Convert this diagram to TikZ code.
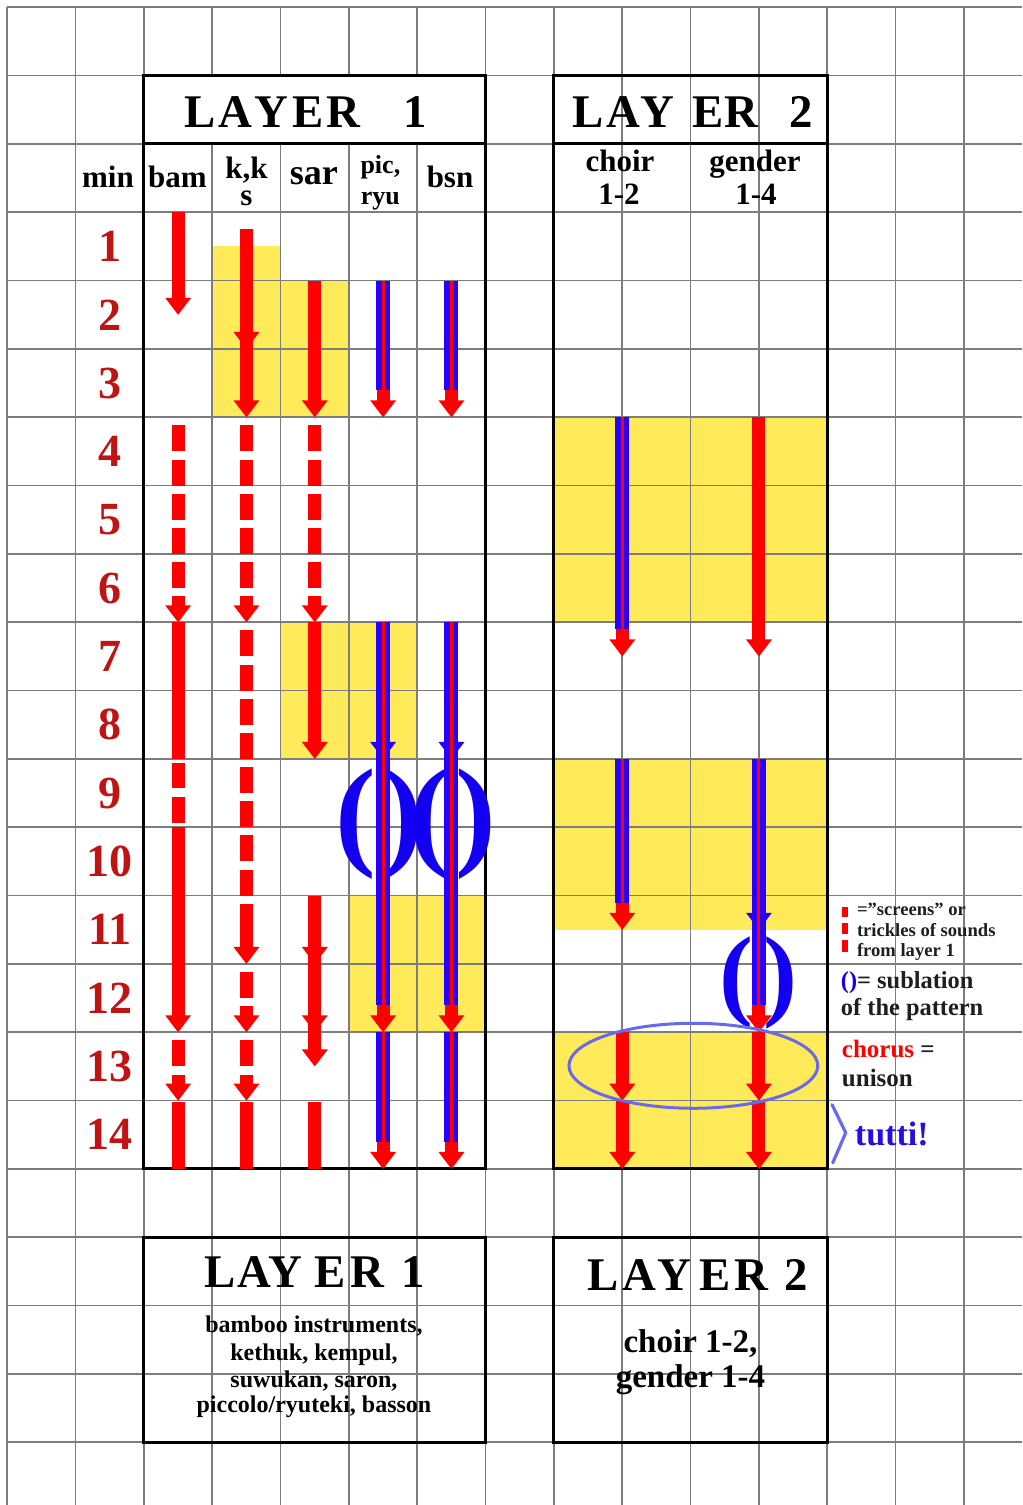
\documentclass[tikz,border=0pt]{standalone}
\usepackage{fontspec}
\setmainfont{Liberation Serif}
\definecolor{gridgray}{RGB}{125,125,125}
\definecolor{yel}{RGB}{255,235,90}
\definecolor{arred}{RGB}{255,0,0}
\definecolor{arblue}{RGB}{40,0,255}
\definecolor{numred}{RGB}{192,20,20}
\definecolor{ellblue}{RGB}{105,105,235}
\definecolor{tuttiblue}{RGB}{35,15,225}
\definecolor{legtext}{RGB}{30,30,30}
\definecolor{parblue}{RGB}{20,0,240}
\newcommand\ArShaft[3]{\fill[arred] ({#1-0.095},{#2}) rectangle ({#1+0.095},{#3});}
\newcommand\ArHead[3][arred]{\fill[#1] ({#2-0.19},{#3-0.249}) -- ({#2+0.19},{#3-0.249}) -- ({#2},{#3}) -- cycle;}
\newcommand\ArSolid[3]{\ArShaft{#1}{#2}{#3-0.24}\ArHead{#1}{#3}}
\newcommand\ArDash[4]{\foreach \k in {1,...,#3}{\ArShaft{#1}{#2+0.12+0.5*(\k-1)}{#2+0.5+0.5*(\k-1)}}\ArSolid{#1}{#2+0.12+0.5*#3}{#4}}
\newcommand\ArBR[3]{\ArSolid{#1}{#2}{#3}\fill[arblue] ({#1-0.1025},{#2}) rectangle ({#1+0.1025},{#3-0.395});\fill[arred] ({#1-0.022},{#2}) rectangle ({#1+0.022},{#3-0.395});}
\newcommand\LayTitle[6]{L\kern#1 A\kern#2 Y\kern#3 E\kern#4 R\kern#5 #6}
\newcommand\hsz{\fontsize{15.5}{15.5}\selectfont}
\newcommand\tsz{\fontsize{23.4}{24}\selectfont}
\newcommand\bsz{\fontsize{12}{12}\selectfont}
\newcommand\lsz{\fontsize{9.3}{10}\selectfont}
\newcommand\msz{\fontsize{12.2}{12.2}\selectfont}
\begin{document}
\begin{tikzpicture}[x=34.1667pt,y=-34.1667pt,
  every node/.style={inner sep=0pt,outer sep=0pt,font=\bfseries},
  gridline/.style={gridgray,line width=0.8pt},
  boxline/.style={black,line width=1.5pt},
  numlab/.style={text=numred,font=\bfseries\fontsize{23}{23}\selectfont},
  hdr/.style={anchor=base},
  parenA/.style={text=parblue,font=\bfseries\fontsize{61}{61}\selectfont},
  parenB/.style={text=parblue,font=\bfseries\fontsize{51}{51}\selectfont},
  legend/.style={anchor=base west,text=legtext}]
\useasboundingbox (-0.1068,-0.1068) rectangle (14.8495,21.918);
% yellow fields
\fill[yel] (3,3.5) rectangle (4,6);
\fill[yel] (4,4) rectangle (5,6);
\fill[yel] (4,9) rectangle (6,11);
\fill[yel] (5,13) rectangle (7,15);
\fill[yel] (8,6) rectangle (12,9);
\fill[yel] (8,11) rectangle (12,13.5);
\fill[yel] (8,15) rectangle (12,17);
% grid
\foreach \c in {0,...,14} \draw[gridline] (\c,0) -- (\c,21.918);
\foreach \r in {0,...,21} \draw[gridline] (0,\r) -- (14.8495,\r);
% boxes
\fill[white] (2,1) rectangle (7,2);
\draw[boxline] (2,1) rectangle (7,17);
\draw[boxline] (2,2) -- (7,2);
\draw[boxline] (8,1) rectangle (12,17);
\draw[boxline] (8,2) -- (12,2);
\draw[boxline] (2,18) rectangle (7,21);
\draw[boxline] (8,18) rectangle (12,21);
% titles
\node[anchor=base west] (t1) at (2.587,1.766) {\tsz\LayTitle{1.5pt}{1pt}{2.5pt}{1pt}{22pt}{1}};
\node[anchor=base west] (t2) at (8.265,1.766) {\tsz\LayTitle{1.6pt}{0.25pt}{9pt}{0.3pt}{15.8pt}{2}};
\node[anchor=base west] (b1) at (2.880,18.742) {\tsz\LayTitle{1pt}{-1.2pt}{6pt}{2.3pt}{8.6pt}{1}};
\node[anchor=base west] (b2) at (8.485,18.772) {\tsz\LayTitle{2pt}{0.5pt}{4.5pt}{1.5pt}{8.5pt}{2}};
% headers
\node[hdr] (hmin) at (1.4736,2.6445) {\hsz min};
\node[hdr] (hbam) at (2.4907,2.6445) {\hsz bam};
\node[align=center,font=\bfseries\fontsize{15.5}{13.8}\selectfont] (hkk) at (3.50,2.549) {k,k\\s};
\node[hdr] (hsar) at (4.488,2.6005) {\fontsize{18}{18}\selectfont sar};
\node[align=center,font=\bfseries\fontsize{13}{15.75}\selectfont] (hpic) at (5.46,2.571) {pic,\\ryu};
\node[hdr] (hbsn) at (6.479,2.6445) {\hsz bsn};
\node[hdr] (hchoir) at (8.966,2.41) {\hsz choir};
\node[hdr] (hc12) at (8.952,2.893) {\hsz 1-2};
\node[hdr] (hgender) at (10.942,2.41) {\hsz gender};
\node[hdr] (hg14) at (10.957,2.893) {\hsz 1-4};
% minute numbers
\foreach \n in {1,...,14} \node[numlab] (n\n) at (1.5,{\n+2.5}) {\n};
% parentheses (sublation)
\node[parenA] (p1) at (5.44,11.96) {(\kern3pt)};
\node[parenA] (p2) at (6.522,11.96) {(\kern3pt)};
\node[parenB] (p3) at (10.993,14.28) {(\kern5pt)};
% ---- Layer 1 arrows ----
% bam
\ArSolid{2.5}{3}{4.5}
\ArDash{2.5}{6}{5}{9}
\ArShaft{2.5}{9}{11}
\ArShaft{2.5}{11.06}{11.43}
\ArShaft{2.5}{11.56}{11.94}
\ArSolid{2.5}{12}{15}
\ArDash{2.5}{15}{1}{16}
\ArShaft{2.5}{16.02}{17}
% k,k s
\ArSolid{3.5}{3.25}{6}
\ArHead{3.5}{5}
\ArDash{3.5}{6}{5}{9}
\ArDash{3.5}{9}{8}{14}
\ArDash{3.5}{14}{1}{15}
\ArDash{3.5}{15}{1}{16}
\ArShaft{3.5}{16.02}{17}
% sar
\ArSolid{4.5}{4}{6}
\ArDash{4.5}{6}{5}{9}
\ArSolid{4.5}{9}{11}
\ArSolid{4.5}{13}{15.5}
\ArHead{4.5}{14}
\ArHead{4.5}{15}
\ArShaft{4.5}{16.02}{17}
% pic, ryu and bsn
\foreach \xx in {5.5,6.5}{
  \ArBR{\xx}{4}{6}
  \ArHead[arblue]{\xx}{11}
  \ArBR{\xx}{9}{15}
  \ArBR{\xx}{15}{17}
}
% ---- Layer 2 arrows ----
% choir
\ArBR{9}{6}{9.5}
\ArBR{9}{11}{13.5}
\ArSolid{9}{15}{16}
\ArSolid{9}{16}{17}
% gender
\ArSolid{11}{6}{9.5}
\ArHead[arblue]{11}{13.5}
\ArBR{11}{11}{15}
\ArSolid{11}{15}{16}
\ArSolid{11}{16}{17}
% chorus ellipse and tutti bracket
\draw[ellblue,line width=1.5pt] (10.04,15.49) ellipse [x radius=62.2pt, y radius=21.25pt];
\draw[ellblue,line width=1.6pt,line join=round,line cap=round] (12.07,16.06) -- (12.27,16.47) -- (12.08,16.91);
% legend
\fill[arred] (12.215,13.17) rectangle (12.30,13.31);
\fill[arred] (12.215,13.40) rectangle (12.30,13.56);
\fill[arred] (12.215,13.65) rectangle (12.30,13.83);
\node[legend] (lg1) at (12.435,13.298) {\lsz ="screens" or};
\node[legend] (lg2) at (12.435,13.591) {\lsz trickles of sounds};
\node[legend] (lg3) at (12.435,13.884) {\lsz from layer 1};
\node[legend] (lg4) at (12.20,14.352) {\msz{\color{parblue}()}= sublation};
\node[legend] (lg5) at (12.20,14.747) {\msz of the pattern};
\node[legend] (lg6) at (12.215,15.376) {\fontsize{12.5}{12.5}\selectfont{\color{arred}chorus} =};
\node[legend] (lg7) at (12.215,15.80) {\fontsize{12.5}{12.5}\selectfont unison};
\node[legend,text=tuttiblue] (tutti) at (12.405,16.65) {\fontsize{17}{17}\selectfont tutti!};
% bottom box texts
\node[hdr] (b1a) at (4.488,19.386) {\bsz bamboo instruments,};
\node[hdr] (b1b) at (4.488,19.796) {\bsz kethuk, kempul,};
\node[hdr] (b1c) at (4.488,20.191) {\bsz suwukan, saron,};
\node[hdr] (b1d) at (4.488,20.571) {\bsz piccolo/ryuteki, basson};
\node[hdr] (b2a) at (9.998,19.679) {\fontsize{16.5}{16.5}\selectfont choir 1-2,};
\node[hdr] (b2b) at (9.998,20.191) {\fontsize{16.5}{16.5}\selectfont gender 1-4};
\end{tikzpicture}
\end{document}
